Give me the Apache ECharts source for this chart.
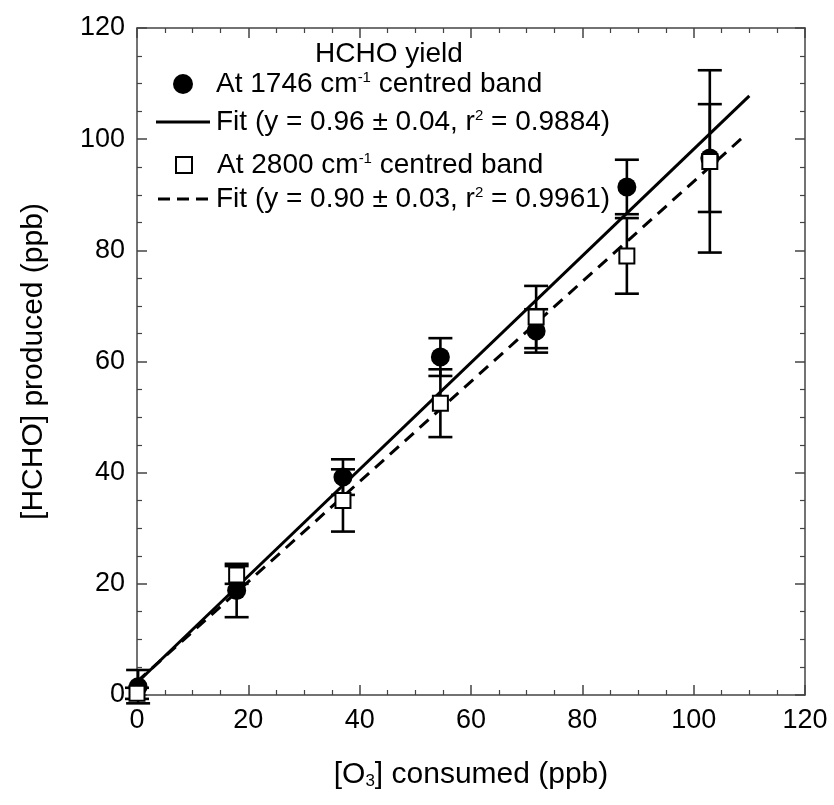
<!DOCTYPE html>
<html>
<head>
<meta charset="utf-8">
<script src="https://cdn.jsdelivr.net/npm/echarts@6/dist/echarts.min.js"></script>
<style>html,body{margin:0;padding:0;background:#fff}#c{width:834px;height:805px}</style>
</head>
<body>
<div id="c"></div>
<script>
// x: [O3] consumed (ppb)
var band1746X = [0.2, 17.9, 37.0, 54.5, 71.7, 88.0, 102.9];
var band1746Y = [1.5, 18.8, 39.2, 60.8, 65.5, 91.4, 96.6];
var band1746Err = [3.0, 4.8, 3.2, 3.4, 3.9, 4.9, 9.7];

var band2800X = [0.0, 17.9, 37.0, 54.5, 71.7, 88.0, 102.9];
var band2800Y = [0.3, 21.6, 35.0, 52.5, 68.0, 79.0, 96.0];
var band2800Err = [1.0, 1.6, 5.6, 6.1, 5.6, 6.8, 16.4];

var fit1746X = [0, 110];
var fit1746Y = [2.2, 107.8];
var fit2800X = [0, 108.8];
var fit2800Y = [2.4, 100.3];

var xTicks = [0, 20, 40, 60, 80, 100, 120];
var yTicks = [0, 20, 40, 60, 80, 100, 120];

var legendNames = [
  'At 1746 cm{sup|-1} centred band',
  'Fit (y = 0.96 \u00b1 0.04, r{sup|2} = 0.9884)',
  'At 2800 cm{sup|-1} centred band',
  'Fit (y = 0.90 \u00b1 0.03, r{sup|2} = 0.9961)'
];

function zip(xs, ys) { return xs.map(function (x, i) { return [x, ys[i]]; }); }
function zip3(xs, ys, es) { return xs.map(function (x, i) { return [x, ys[i], es[i]]; }); }

var FONT = 'Liberation Sans, Arial, sans-serif';
var axisCol = '#444';

function errRender(params, api) {
  var x = api.value(0), y = api.value(1), e = api.value(2);
  var top = api.coord([x, y + e]);
  var bot = api.coord([x, y - e]);
  var hw = 12;
  var st = { stroke: '#000', lineWidth: 2.6 };
  return {
    type: 'group',
    children: [
      { type: 'line', shape: { x1: top[0], y1: top[1], x2: bot[0], y2: bot[1] }, style: st },
      { type: 'line', shape: { x1: top[0] - hw, y1: top[1], x2: top[0] + hw, y2: top[1] }, style: st },
      { type: 'line', shape: { x1: bot[0] - hw, y1: bot[1], x2: bot[0] + hw, y2: bot[1] }, style: st }
    ]
  };
}

var legendText = {
  fontFamily: FONT, fontSize: 28, color: '#000',
  rich: { sup: { fontSize: 15, verticalAlign: 'top', padding: [0, 0, 12, 0], fontFamily: FONT, color: '#000' } }
};
function mkLegend(name, icon, left, top, w, h, padLeft) {
  var ts = Object.assign({}, legendText, { padding: [0, 0, 0, padLeft] });
  return {
    orient: 'vertical', left: left, top: top, itemWidth: w, itemHeight: h,
    icon: icon, data: [name], textStyle: ts, selectedMode: false
  };
}

var chart = echarts.init(document.getElementById('c'), null, { renderer: 'canvas' });

var axisCommon = {
  min: 0, max: 120, interval: 20,
  axisLine: { show: true, onZero: false, lineStyle: { color: axisCol, width: 1.5 } },
  axisTick: { show: true, inside: true, length: 10, lineStyle: { color: axisCol, width: 1.5 } },
  minorTick: { show: true, splitNumber: 4, length: 5, lineStyle: { color: axisCol, width: 1.2 } },
  splitLine: { show: false }
};

chart.setOption({
  animation: false,
  backgroundColor: '#fff',
  textStyle: { fontFamily: FONT },
  grid: { left: 137, right: 29, top: 28, bottom: 110, containLabel: false },
  title: {
    text: 'HCHO yield', left: 310, top: 35,
    textStyle: { fontFamily: FONT, fontSize: 28, fontWeight: 'normal', color: '#000' }
  },
  legend: [
    mkLegend(legendNames[0], 'circle', 168, 65, 20, 20, 18),
    mkLegend(legendNames[1], 'path://M0,0h54v3h-54z', 151, 103, 54, 3, 1),
    mkLegend(legendNames[2], 'rect', 170, 146, 16, 16, 20),
    mkLegend(legendNames[3], 'path://M0,0h12v3h-12z M19,0h12v3h-12z M38,0h12v3h-12z', 153, 180, 50, 3, 3)
  ],
  xAxis: [
    Object.assign({}, axisCommon, {
      type: 'value', position: 'bottom',
      axisLabel: { show: true, fontSize: 27, color: '#000', margin: 12, fontFamily: FONT,
        formatter: function (v) { return xTicks.indexOf(v) >= 0 ? String(v) : ''; } },
      name: '[O{sub|3}] consumed (ppb)', nameLocation: 'middle', nameGap: 64,
      nameTextStyle: { fontSize: 30, color: '#000', fontFamily: FONT,
        rich: { sub: { fontSize: 17, verticalAlign: 'bottom', padding: [14, 0, 0, 0], fontFamily: FONT, color: '#000' } } }
    }),
    Object.assign({}, axisCommon, {
      type: 'value', position: 'top', axisLabel: { show: false }
    })
  ],
  yAxis: [
    Object.assign({}, axisCommon, {
      type: 'value', position: 'left',
      axisLabel: { show: true, fontSize: 27, color: '#000', margin: 12, fontFamily: FONT,
        formatter: function (v) { return yTicks.indexOf(v) >= 0 ? String(v) : ''; } },
      name: '[HCHO] produced (ppb)', nameLocation: 'middle', nameGap: 88, nameRotate: 90,
      nameTextStyle: { fontSize: 30, color: '#000', fontFamily: FONT }
    }),
    Object.assign({}, axisCommon, {
      type: 'value', position: 'right', axisLabel: { show: false }
    })
  ],
  series: [
    {
      type: 'custom', name: 'err1746', renderItem: errRender, z: 2,
      data: zip3(band1746X, band1746Y, band1746Err), encode: { x: 0, y: 1 }
    },
    {
      type: 'custom', name: 'err2800', renderItem: errRender, z: 2,
      data: zip3(band2800X, band2800Y, band2800Err), encode: { x: 0, y: 1 }
    },
    {
      type: 'scatter', name: legendNames[0], symbol: 'circle', symbolSize: 19, clip: false, z: 5,
      itemStyle: { color: '#000', opacity: 1 },
      data: zip(band1746X, band1746Y)
    },
    {
      type: 'line', name: legendNames[1], showSymbol: false, symbol: 'none', z: 4,
      lineStyle: { color: '#000', width: 3, type: 'solid' },
      itemStyle: { color: '#000' },
      data: zip(fit1746X, fit1746Y)
    },
    {
      type: 'scatter', name: legendNames[2], symbol: 'rect', symbolSize: 15, clip: false, z: 5,
      itemStyle: { color: '#fff', borderColor: '#000', borderWidth: 2, opacity: 1 },
      data: zip(band2800X, band2800Y)
    },
    {
      type: 'line', name: legendNames[3], showSymbol: false, symbol: 'none', z: 4,
      lineStyle: { color: '#000', width: 3, type: [12, 8] },
      itemStyle: { color: '#000' },
      data: zip(fit2800X, fit2800Y)
    }
  ]
});
</script>
</body>
</html>
